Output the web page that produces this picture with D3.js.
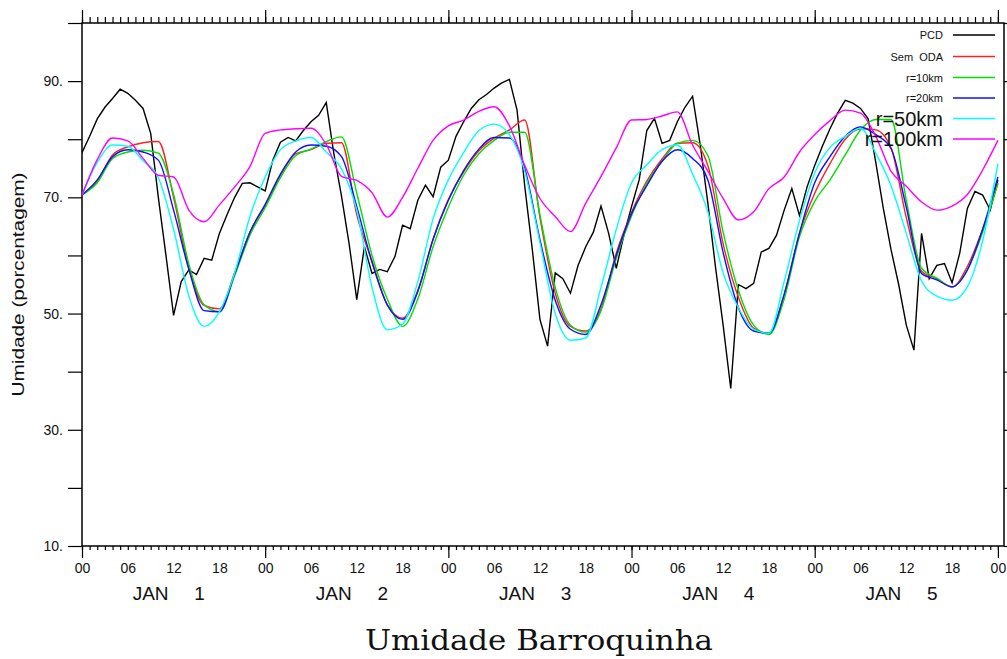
<!DOCTYPE html>
<html>
<head>
<meta charset="utf-8">
<script src="https://cdn.jsdelivr.net/npm/d3@7"></script>
<style>
body { margin: 0; background: #fff; }
</style>
</head>
<body>
<div id="chart"></div>
<script>

// hourly station record, 00 JAN 1 .. 00 JAN 6
var pcd = [77.7, 80.5, 83.5, 85.5, 87.0, 88.6, 87.9, 86.7, 85.3, 81.0,
    70.0, 60.0, 49.7, 55.5, 57.5, 56.7, 59.5, 59.2, 63.8, 67.0,
    70.0, 72.4, 72.5, 71.8, 71.1, 76.4, 79.5, 80.3, 79.7, 81.5,
    83.0, 84.1, 86.3, 77.5, 70.2, 62.0, 52.4, 61.5, 56.9, 57.6,
    57.2, 59.8, 65.2, 64.6, 69.5, 72.1, 70.1, 75.2, 76.4, 80.5,
    83.0, 85.3, 86.8, 87.7, 88.8, 89.7, 90.3, 85.0, 72.0, 61.0,
    49.0, 44.4, 57.0, 56.0, 53.5, 58.3, 61.5, 64.0, 68.5, 63.8,
    57.8, 63.5, 68.4, 73.0, 81.5, 83.6, 79.3, 79.8, 83.0, 85.5,
    87.4, 79.0, 69.0, 58.0, 48.0, 37.1, 55.0, 54.3, 55.2, 60.6,
    61.2, 63.5, 67.8, 71.5, 66.9, 71.8, 75.5, 78.8, 81.8, 84.5,
    86.7, 86.2, 85.3, 83.5, 76.0, 68.0, 61.0, 55.0, 48.0, 43.7,
    63.8, 56.0, 58.3, 58.6, 55.3, 60.4, 68.1, 71.0, 70.4, 67.8,
    73.0];

// model runs, every 2 hours
var semOda = [70.4, 72.8, 77.3, 78.7, 79.4, 79.6, 70.0, 57.8, 51.4, 50.8,
    57.0, 64.0, 68.6, 73.8, 77.5, 78.2, 79.3, 79.4, 67.0, 59.0,
    51.5, 49.2, 54.0, 62.8, 69.6, 74.4, 78.0, 80.2, 81.6, 83.3,
    66.5, 53.5, 47.8, 47.0, 50.8, 60.4, 67.4, 72.8, 76.6, 79.3,
    79.4, 75.5, 62.0, 52.8, 47.5, 46.6, 53.3, 63.8, 70.7, 75.8,
    80.0, 81.8, 81.6, 78.5, 66.5, 57.3, 56.0, 54.6, 58.1, 64.5,
    72.4];
var r10 = [70.4, 72.5, 76.7, 77.8, 78.1, 77.6, 70.5, 58.5, 51.5, 50.3,
    56.5, 63.5, 68.2, 73.4, 77.2, 78.3, 79.6, 80.4, 70.7, 60.0,
    52.5, 47.8, 52.5, 61.5, 68.3, 73.8, 77.5, 79.8, 81.2, 81.2,
    67.0, 54.5, 48.0, 46.8, 50.5, 59.5, 66.8, 72.4, 76.2, 79.3,
    79.8, 77.2, 64.0, 54.0, 48.0, 46.4, 52.5, 63.2, 69.3, 73.0,
    77.3, 81.6, 83.4, 83.4, 69.5, 57.8, 56.1, 54.6, 57.5, 64.0,
    72.4];
var r20 = [70.4, 73.0, 77.0, 78.2, 77.8, 76.4, 67.8, 57.6, 50.5, 50.3,
    56.8, 64.0, 68.8, 74.0, 77.8, 79.0, 78.8, 77.0, 68.4, 58.8,
    51.5, 49.0, 53.8, 62.8, 69.5, 74.6, 78.3, 80.3, 80.2, 75.0,
    62.7, 52.3, 47.3, 46.4, 51.5, 60.0, 67.2, 72.0, 76.2, 78.2,
    76.7, 73.0, 60.5, 51.0, 47.0, 46.6, 53.3, 63.8, 72.5, 77.0,
    80.5, 82.1, 80.8, 78.4, 68.3, 56.9, 55.8, 54.6, 57.5, 64.5,
    73.5];
var r50 = [70.4, 76.0, 79.0, 78.8, 76.3, 73.4, 64.5, 53.0, 47.8, 50.3,
    57.0, 66.7, 73.5, 78.2, 79.7, 80.3, 77.8, 74.9, 67.8, 54.5,
    47.2, 48.2, 55.5, 66.3, 73.0, 77.7, 81.5, 82.6, 80.8, 74.5,
    62.2, 50.0, 45.4, 45.8, 54.5, 64.5, 72.5, 75.6, 78.2, 79.0,
    74.0, 67.5, 57.0, 51.0, 47.3, 46.6, 55.5, 66.0, 74.2, 78.6,
    80.5, 81.9, 77.6, 72.0, 63.8, 55.6, 53.0, 52.3, 54.6, 62.5,
    75.8];
var r100 = [70.4, 76.5, 80.2, 79.7, 76.7, 73.8, 73.5, 67.8, 65.8, 68.7,
    71.8, 75.3, 81.0, 81.6, 81.8, 81.9, 79.1, 73.6, 72.9, 70.8,
    66.6, 70.0, 75.0, 79.8, 82.3, 83.3, 84.8, 85.6, 82.3, 75.5,
    69.8, 66.7, 64.1, 69.0, 73.6, 78.5, 83.3, 83.4, 84.0, 84.7,
    79.0, 74.5, 69.8, 66.1, 67.5, 71.5, 73.5, 77.8, 80.8, 83.2,
    85.0, 84.5, 80.5, 74.5, 71.9, 69.2, 67.8, 68.5, 70.5, 74.7,
    79.8];

var seriesNames = ["PCD", "Sem  ODA", "r=10km", "r=20km", "r=50km", "r=100km"];
var seriesColors = ["#000000", "#ff2020", "#00e000", "#1010ff", "#00ffff", "#ff00ff"];

var hourLabels = ["00", "06", "12", "18"];
var dayNumbers = ["1", "2", "3", "4", "5"];
var yTickLabels = [10, 30, 50, 70, 90];

var pcdHours = d3.range(0, 121);
var modelHours = d3.range(0, 121, 2);

var sans = '"Liberation Sans", Arial, sans-serif';
var serif = '"DejaVu Serif", "Liberation Serif", serif';

var config = {
    width: 1007,
    height: 659,
    left: 82,
    right: 1004,
    top: 23,
    bottom: 546
};

var x = d3.scaleLinear().domain([0, 120.8]).range([config.left, config.right]);
var y = d3.scaleLinear().domain([10, 100]).range([config.bottom, config.top]);

var svg = d3.select('#chart')
    .append('svg')
    .attr("xmlns", 'http://www.w3.org/2000/svg')
    .attr("width", config.width)
    .attr("height", config.height)
    .style('font-family', sans);

// frame
svg.append('rect')
    .attr('x', config.left).attr('y', config.top)
    .attr('width', config.right - config.left)
    .attr('height', config.bottom - config.top)
    .attr('fill', 'none').attr('stroke', '#000').attr('stroke-width', 1.5);

function styleAxis(g) {
    g.select('.domain').remove();
    g.selectAll('line').attr('stroke', '#000').attr('stroke-width', 1.2);
}

function styleLabels(g) {
    g.select('.domain').remove();
    g.selectAll('text').attr('font-size', 14).attr('fill', '#111')
        .style('font-family', sans);
}

var hourTicks = d3.range(0, 121);
var dayTicks = d3.range(0, 121, 24);

// bottom: hourly minor ticks, daily major ticks, labels every 6 h
svg.append('g').attr('transform', 'translate(0,' + config.bottom + ')')
    .call(d3.axisBottom(x).tickValues(hourTicks).tickSize(4).tickFormat(''))
    .call(styleAxis);
svg.append('g').attr('transform', 'translate(0,' + config.bottom + ')')
    .call(d3.axisBottom(x).tickValues(dayTicks).tickSize(12).tickFormat(''))
    .call(styleAxis);

svg.append('g').attr('transform', 'translate(0,' + config.bottom + ')')
    .call(d3.axisBottom(x).tickValues(d3.range(0, 121, 6)).tickSize(0).tickPadding(17)
        .tickFormat(function(d) { return hourLabels[(d / 6) % 4]; }))
    .call(styleLabels);

// top: same ticks pointing up
svg.append('g').attr('transform', 'translate(0,' + config.top + ')')
    .call(d3.axisTop(x).tickValues(hourTicks).tickSize(6).tickFormat(''))
    .call(styleAxis);
svg.append('g').attr('transform', 'translate(0,' + config.top + ')')
    .call(d3.axisTop(x).tickValues(dayTicks).tickSize(13).tickFormat(''))
    .call(styleAxis);

// day names under the hours
var days = svg.append('g').selectAll('g').data(dayNumbers).enter().append('g');
days.append('text')
    .attr('x', function(d, i) { return x(i * 24 + 12) - 5; })
    .attr('y', 600)
    .attr('text-anchor', 'end')
    .attr('font-size', 19)
    .attr('fill', '#111')
    .text('JAN');
days.append('text')
    .attr('x', function(d, i) { return x(i * 24 + 12) + 26; })
    .attr('y', 600)
    .attr('text-anchor', 'middle')
    .attr('font-size', 19)
    .attr('fill', '#111')
    .text(function(d) { return d; });

// y axes
var yTicks = d3.range(10, 101, 10);
svg.append('g').attr('transform', 'translate(' + config.left + ',0)')
    .call(d3.axisLeft(y).tickValues(yTicks).tickSize(14).tickPadding(5)
        .tickFormat(function(d) { return yTickLabels.indexOf(d) >= 0 ? d + '.' : ''; }))
    .call(styleAxis)
    .call(styleLabels);
svg.append('g').attr('transform', 'translate(' + config.right + ',0)')
    .call(d3.axisRight(y).tickValues(yTicks).tickSize(8).tickFormat(''))
    .call(styleAxis);

svg.append('text')
    .attr('transform', 'translate(24,' + ((config.top + config.bottom) / 2) + ') rotate(-90)')
    .attr('text-anchor', 'middle')
    .attr('font-size', 16)
    .attr('fill', '#111')
    .attr('textLength', 224)
    .attr('lengthAdjust', 'spacingAndGlyphs')
    .text('Umidade (porcentagem)');

// lines
svg.append('clipPath').attr('id', 'plotclip')
    .append('rect')
    .attr('x', config.left).attr('y', config.top)
    .attr('width', config.right - config.left)
    .attr('height', config.bottom - config.top);

var lineData = [
    { hours: pcdHours, values: pcd, curve: d3.curveLinear },
    { hours: modelHours, values: semOda, curve: d3.curveMonotoneX },
    { hours: modelHours, values: r10, curve: d3.curveMonotoneX },
    { hours: modelHours, values: r20, curve: d3.curveMonotoneX },
    { hours: modelHours, values: r50, curve: d3.curveMonotoneX },
    { hours: modelHours, values: r100, curve: d3.curveMonotoneX }
];

svg.append('g').attr('clip-path', 'url(#plotclip)')
    .selectAll('path').data(lineData)
    .enter()
    .append('path')
    .attr('d', function(d) {
        return d3.line()
            .x(function(v, i) { return x(d.hours[i]); })
            .y(function(v) { return y(v); })
            .curve(d.curve)(d.values);
    })
    .attr('fill', 'none')
    .attr('stroke', function(d, i) { return seriesColors[i]; })
    .attr('stroke-width', 1.4);

// legend, last two entries in a larger font
var legendRows = [35, 56.5, 77.5, 98, 118.5, 139];
var legend = svg.append('g').selectAll('g').data(seriesNames).enter().append('g');
legend.append('line')
    .attr('x1', 953).attr('x2', 995)
    .attr('y1', function(d, i) { return legendRows[i]; })
    .attr('y2', function(d, i) { return legendRows[i]; })
    .attr('stroke', function(d, i) { return seriesColors[i]; })
    .attr('stroke-width', 1.4);
legend.append('text')
    .attr('x', 943)
    .attr('y', function(d, i) { return legendRows[i] + (i < 4 ? 4 : 7); })
    .attr('text-anchor', 'end')
    .attr('font-size', function(d, i) { return i < 4 ? 11 : 20; })
    .attr('fill', '#111')
    .style('white-space', 'pre')
    .text(function(d) { return d; });

// title
svg.append('text')
    .attr('x', 539)
    .attr('y', 650)
    .attr('text-anchor', 'middle')
    .style('font-family', serif)
    .attr('font-size', 27)
    .attr('fill', '#111')
    .attr('textLength', 348)
    .attr('lengthAdjust', 'spacingAndGlyphs')
    .text('Umidade Barroquinha');

</script>
</body>
</html>
